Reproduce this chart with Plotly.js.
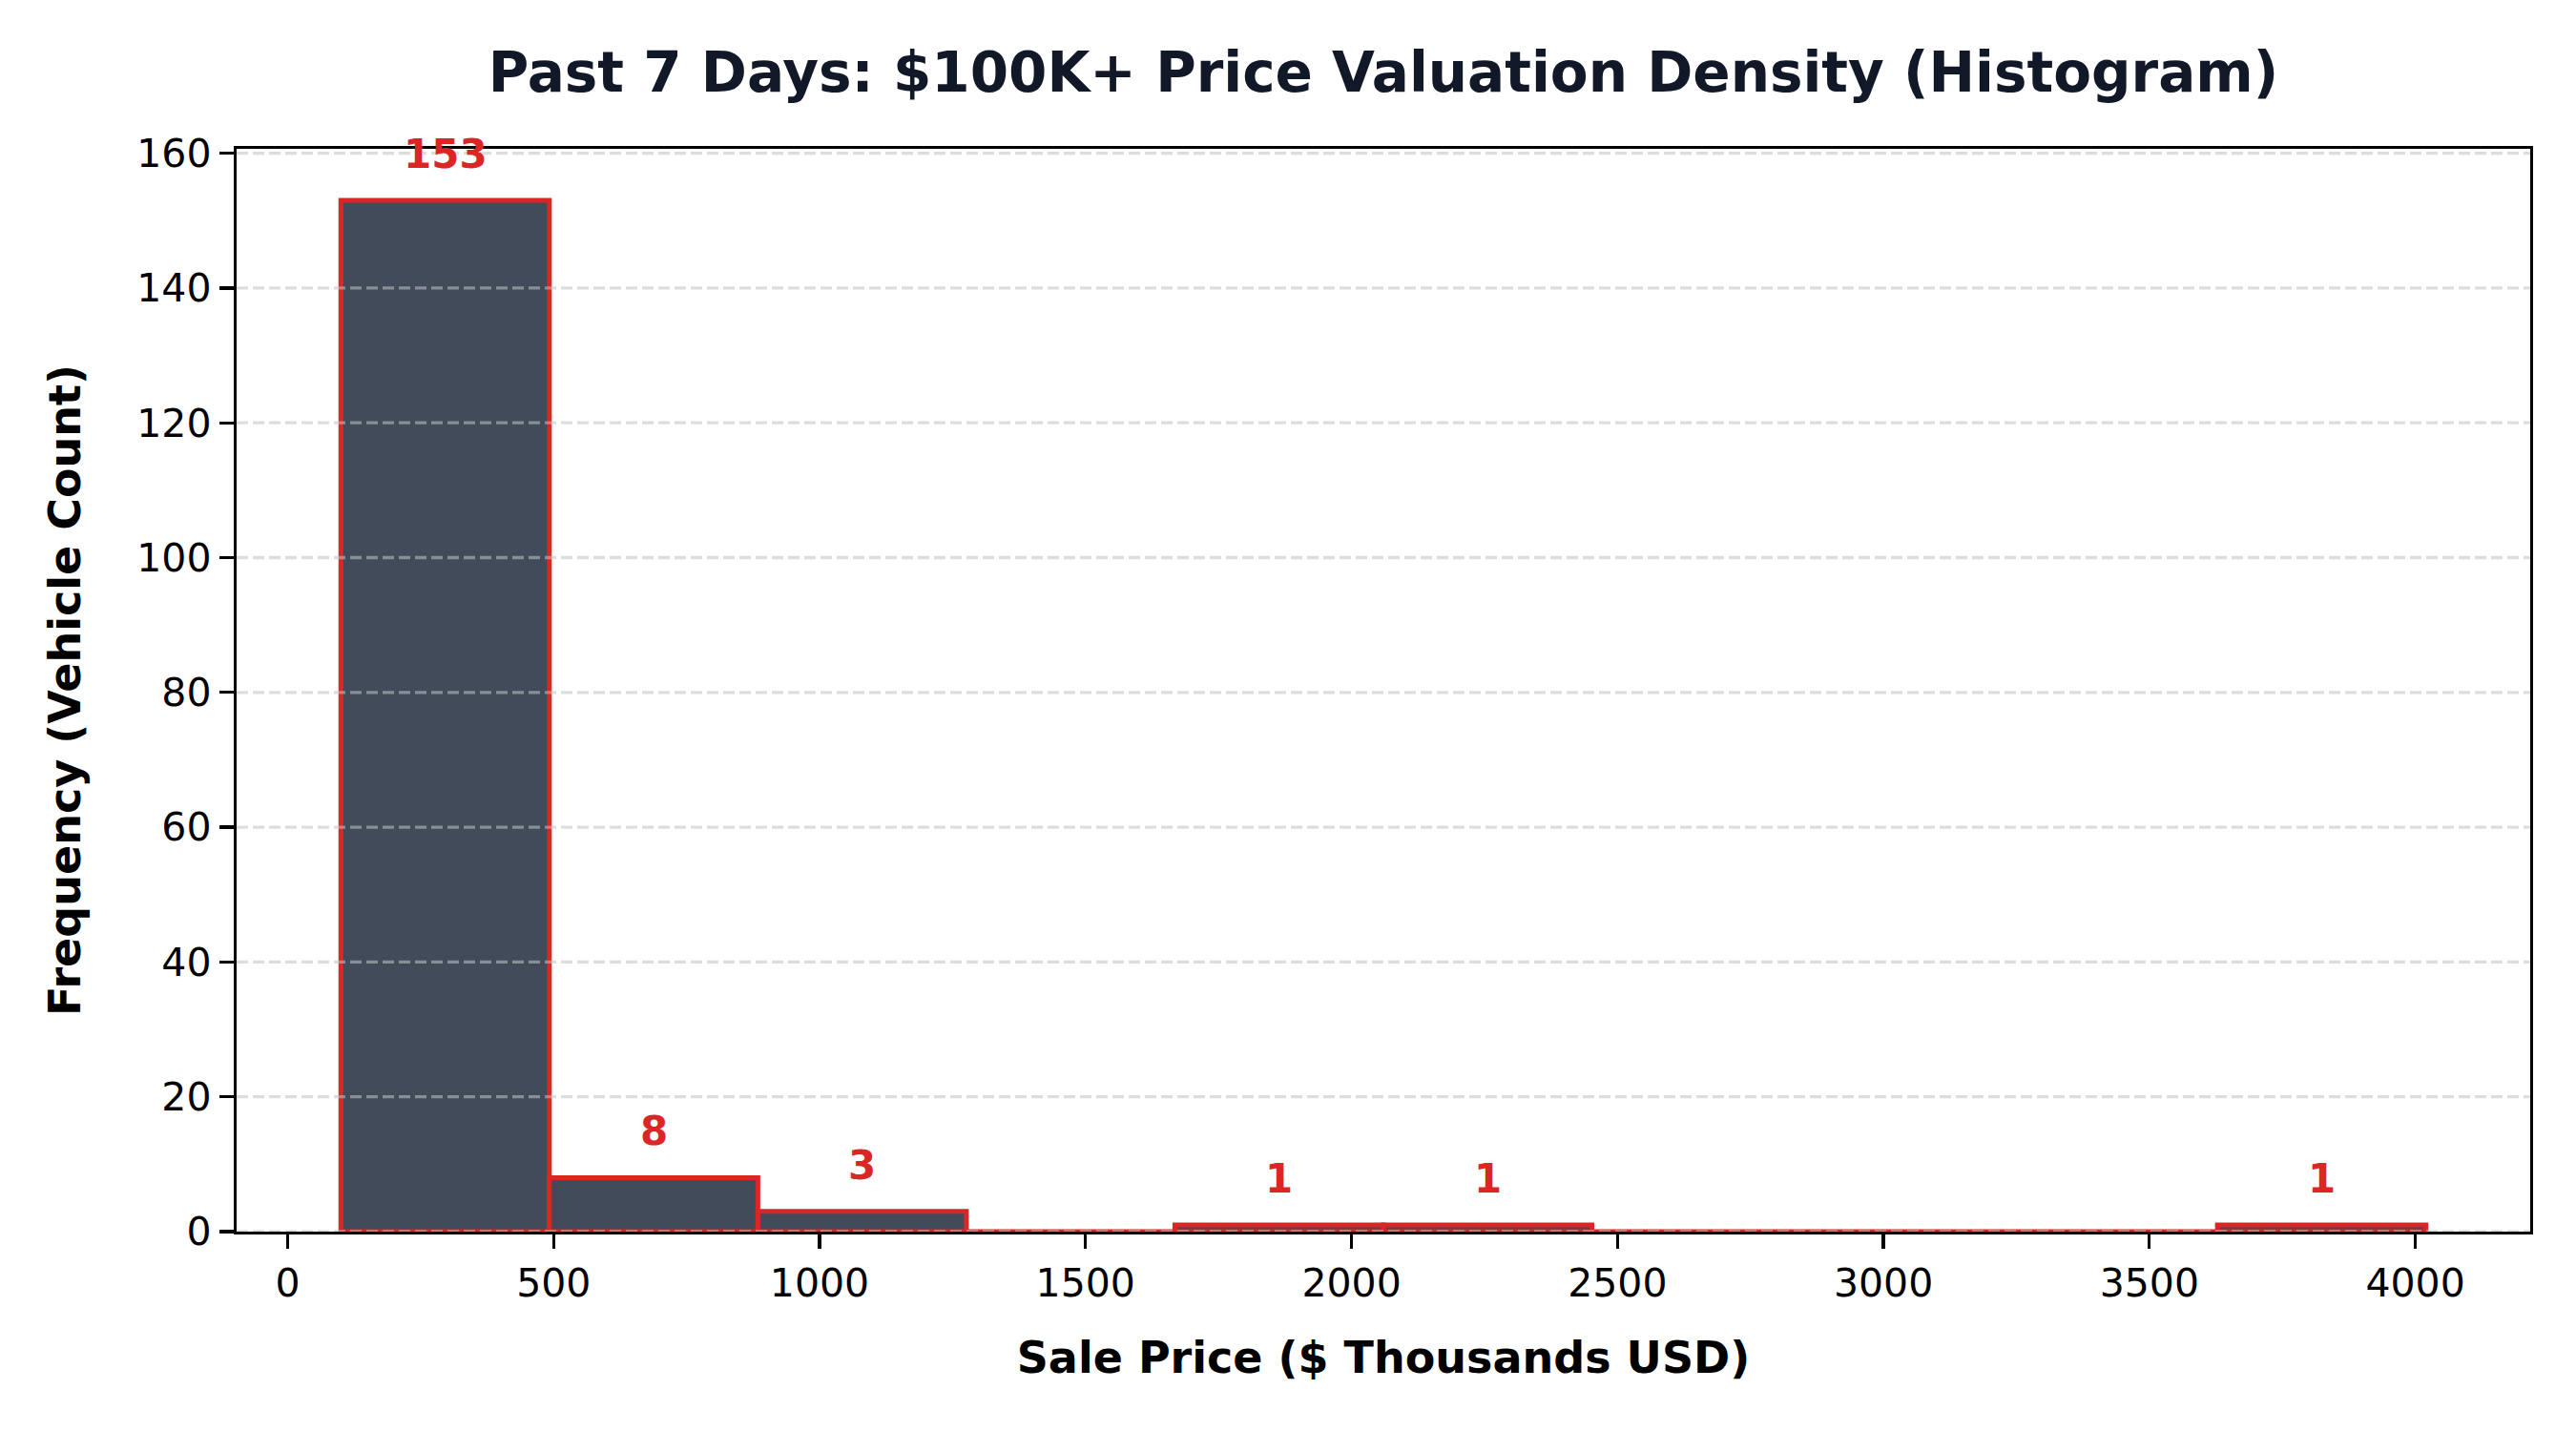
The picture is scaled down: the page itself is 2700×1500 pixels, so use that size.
<!DOCTYPE html>
<html>
<head>
<meta charset="utf-8">
<script src="https://cdn.plot.ly/plotly-3.0.1.min.js"></script>
<style>html,body{margin:0;padding:0;background:#fff;}#chart{width:2700px;height:1500px;}</style>
</head>
<body>
<div id="chart"></div>
<script>
// Histogram bin edges ($ thousands) and counts
const binEdges = [100, 492, 884, 1276, 1668, 2060, 2452, 2844, 3236, 3628, 4020];
const counts = [153, 8, 3, 0, 1, 1, 0, 0, 0, 1];
const xTicks = [0, 500, 1000, 1500, 2000, 2500, 3000, 3500, 4000];
const yTicks = [0, 20, 40, 60, 80, 100, 120, 140, 160];

const titleText = 'Past 7 Days: $100K+ Price Valuation Density (Histogram)';
const xTitle = 'Sale Price ($ Thousands USD)';
const yTitle = 'Frequency (Vehicle Count)';

const centers = counts.map((_, i) => (binEdges[i] + binEdges[i + 1]) / 2);
const widths = counts.map((_, i) => binEdges[i + 1] - binEdges[i]);

const FONT = 'DejaVu Sans, sans-serif';

const trace = {
  type: 'bar',
  x: centers,
  y: counts,
  width: widths,
  marker: {
    color: 'rgba(55,65,81,0.95)',
    line: { color: '#dc2626', width: 5 }
  },
  hoverinfo: 'skip'
};

const annotations = counts.map((c, i) => c > 0 ? {
  x: centers[i], y: c, xref: 'x', yref: 'y',
  text: '<b>' + c + '</b>', showarrow: false,
  yanchor: 'bottom', yshift: 22,
  font: { family: FONT, size: 42, color: '#dc2626' }
} : null).filter(a => a);

const dataMin = binEdges[0], dataMax = binEdges[binEdges.length - 1];
const pad = (dataMax - dataMin) * 0.05;
const yMax = Math.max(...counts) * 1.05;

const shapes = yTicks.map(v => ({
  type: 'line', xref: 'paper', yref: 'y', x0: 0, x1: 1, y0: v, y1: v,
  layer: 'above',
  line: { color: 'rgba(195,195,195,0.56)', width: 3.3, dash: '12px,5px' }
}));

const layout = {
  width: 2700, height: 1500, autosize: false,
  paper_bgcolor: '#ffffff', plot_bgcolor: '#ffffff',
  margin: { l: 248, r: 48, t: 156, b: 209, pad: 0 },
  showlegend: false,
  bargap: 0,
  font: { family: FONT, color: '#000000' },
  title: {
    text: '<b>' + titleText + '</b>',
    font: { family: FONT, size: 58, color: '#111827' },
    x: 0.5 + (248 - 48) / 2 / 2700, xanchor: 'center',
    y: 1 - 76 / 1500, yanchor: 'middle', yref: 'container'
  },
  xaxis: {
    range: [dataMin - pad, dataMax + pad],
    tickvals: xTicks, ticktext: xTicks.map(String),
    ticks: 'outside', ticklen: 15, tickwidth: 3.3, tickcolor: '#000',
    tickfont: { family: FONT, size: 41, color: '#000' },
    showline: true, linecolor: '#000', linewidth: 3.3, mirror: true,
    showgrid: false, zeroline: false,
    title: { text: '<b>' + xTitle + '</b>', font: { family: FONT, size: 46, color: '#000' }, standoff: 40 }
  },
  yaxis: {
    range: [0, yMax],
    tickvals: yTicks, ticktext: yTicks.map(String),
    ticks: 'outside', ticklen: 15, tickwidth: 3.3, tickcolor: '#000',
    tickfont: { family: FONT, size: 41, color: '#000' },
    showline: true, linecolor: '#000', linewidth: 3.3, mirror: true,
    showgrid: false, zeroline: false,
    title: { text: '<b>' + yTitle + '</b>', font: { family: FONT, size: 46, color: '#000' }, standoff: 45 }
  },
  shapes: shapes,
  annotations: annotations
};

Plotly.newPlot('chart', [trace], layout, { staticPlot: true, displayModeBar: false });
</script>
</body>
</html>
